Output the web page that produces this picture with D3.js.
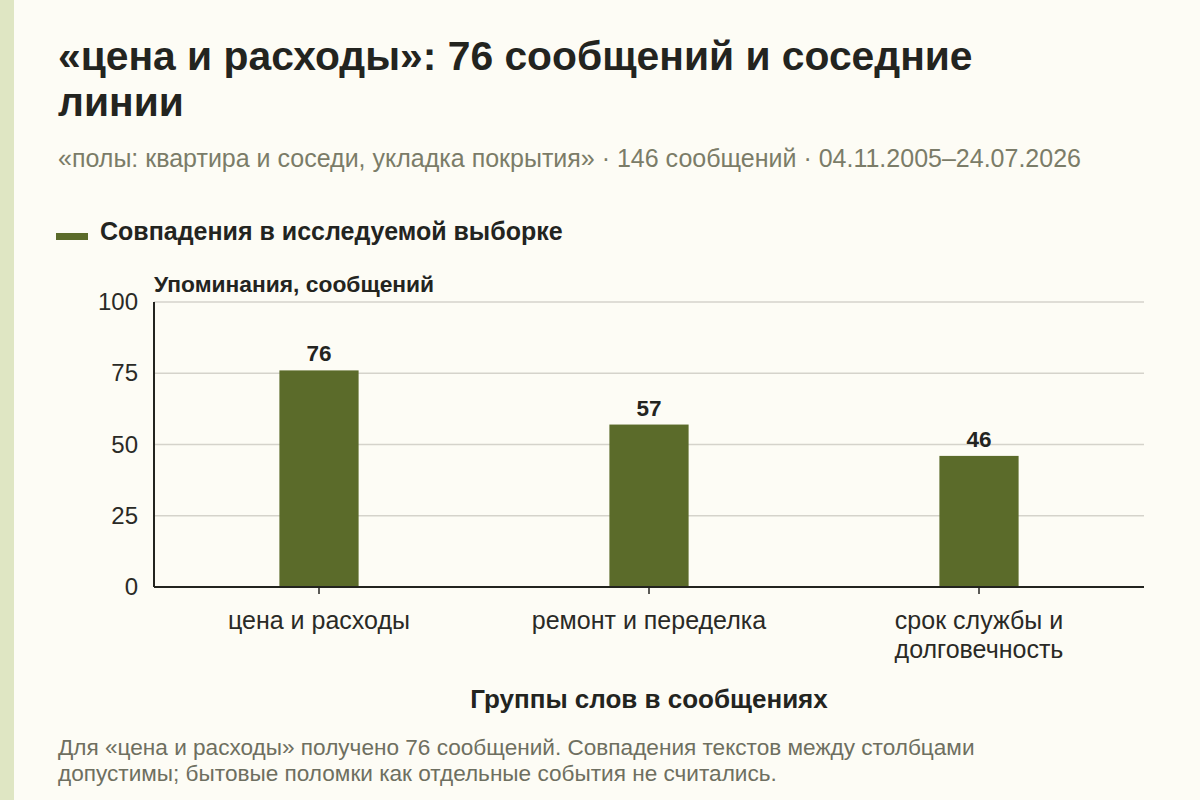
<!DOCTYPE html>
<html><head><meta charset="utf-8">
<script src="https://cdn.jsdelivr.net/npm/d3@7"></script>
<style>
html,body{margin:0;padding:0;background:#fdfcf5;}
svg{display:block;font-family:"Liberation Sans",Arial,sans-serif;}
</style></head>
<body><svg id="c" width="1200" height="800"></svg>
<script>
const categories = [["цена и расходы"], ["ремонт и переделка"], ["срок службы и", "долговечность"]];
const values = [76, 57, 46];
const yTicks = [0, 25, 50, 75, 100];
const titleLines = ["«цена и расходы»: 76 сообщений и соседние", "линии"];
const subtitle = "«полы: квартира и соседи, укладка покрытия» · 146 сообщений · 04.11.2005–24.07.2026";
const legendLabel = "Совпадения в исследуемой выборке";
const yTitle = "Упоминания, сообщений";
const xTitle = "Группы слов в сообщениях";
const notes = ["Для «цена и расходы» получено 76 сообщений. Совпадения текстов между столбцами", "допустимы; бытовые поломки как отдельные события не считались."];

const svg = d3.select("#c");
const barColor = "#5b6b2a";
svg.append("rect").attr("x",0).attr("y",0).attr("width",14).attr("height",800).attr("fill","#dfe6c3");

svg.selectAll("text.title").data(titleLines).join("text")
  .attr("x",58).attr("y",(d,i)=>70+i*46).attr("font-size",40.8).attr("font-weight","bold").attr("fill","#23241f").text(d=>d);
svg.append("text").attr("x",58).attr("y",167).attr("font-size",25).attr("fill","#7b7c68").text(subtitle);

svg.append("rect").attr("x",56).attr("y",233).attr("width",32).attr("height",7).attr("fill",barColor);
svg.append("text").attr("x",100).attr("y",240).attr("font-size",25).attr("font-weight","bold").attr("fill","#23241f").text(legendLabel);

const L=154, R=1144, T=302, B=587;
const x = d3.scaleBand().domain(d3.range(values.length)).range([L,R]).padding(0);
const y = d3.scaleLinear().domain([0,100]).range([B,T]);
const bw = x.bandwidth()*0.24;

svg.append("g").selectAll("line").data(yTicks.filter(t=>t>0)).join("line")
  .attr("x1",L).attr("x2",R).attr("y1",d=>y(d)).attr("y2",d=>y(d)).attr("stroke","#d5d3cb").attr("stroke-width",1.3);

svg.append("g").selectAll("text").data(yTicks).join("text")
  .attr("x",138).attr("y",d=>y(d)+8).attr("text-anchor","end").attr("font-size",24).attr("fill","#2a2a26").text(d=>d);

svg.append("text").attr("x",L).attr("y",292).attr("font-size",22.8).attr("font-weight","bold").attr("fill","#23241f").text(yTitle);

svg.append("g").selectAll("rect").data(values).join("rect")
  .attr("x",(d,i)=>x(i)+x.bandwidth()/2-bw/2).attr("width",bw)
  .attr("y",d=>y(d)).attr("height",d=>B-y(d)).attr("fill",barColor);

svg.append("g").selectAll("text").data(values).join("text")
  .attr("x",(d,i)=>x(i)+x.bandwidth()/2).attr("y",d=>y(d)-9).attr("text-anchor","middle")
  .attr("font-size",22.5).attr("font-weight","bold").attr("fill","#23241f").text(d=>d);

svg.append("line").attr("x1",L).attr("x2",L).attr("y1",T).attr("y2",B).attr("stroke","#23241f").attr("stroke-width",2);
svg.append("line").attr("x1",L).attr("x2",R).attr("y1",B).attr("y2",B).attr("stroke","#23241f").attr("stroke-width",2);
svg.append("g").selectAll("line").data(values).join("line")
  .attr("x1",(d,i)=>x(i)+x.bandwidth()/2).attr("x2",(d,i)=>x(i)+x.bandwidth()/2)
  .attr("y1",B).attr("y2",B+7).attr("stroke","#23241f").attr("stroke-width",1.5);

const xl = svg.append("g").selectAll("text").data(categories).join("text")
  .attr("text-anchor","middle").attr("font-size",25).attr("fill","#2a2a26");
xl.each(function(lines,i){
  d3.select(this).selectAll("tspan").data(lines).join("tspan")
    .attr("x",x(i)+x.bandwidth()/2).attr("y",(d,j)=>629+j*29).text(d=>d);
});

svg.append("text").attr("x",(L+R)/2).attr("y",708).attr("text-anchor","middle").attr("font-size",26).attr("font-weight","bold").attr("fill","#23241f").text(xTitle);

svg.selectAll("text.note").data(notes).join("text")
  .attr("x",58).attr("y",(d,i)=>755+i*26).attr("font-size",22.6).attr("fill","#6e6f60").text(d=>d);
</script></body></html>
